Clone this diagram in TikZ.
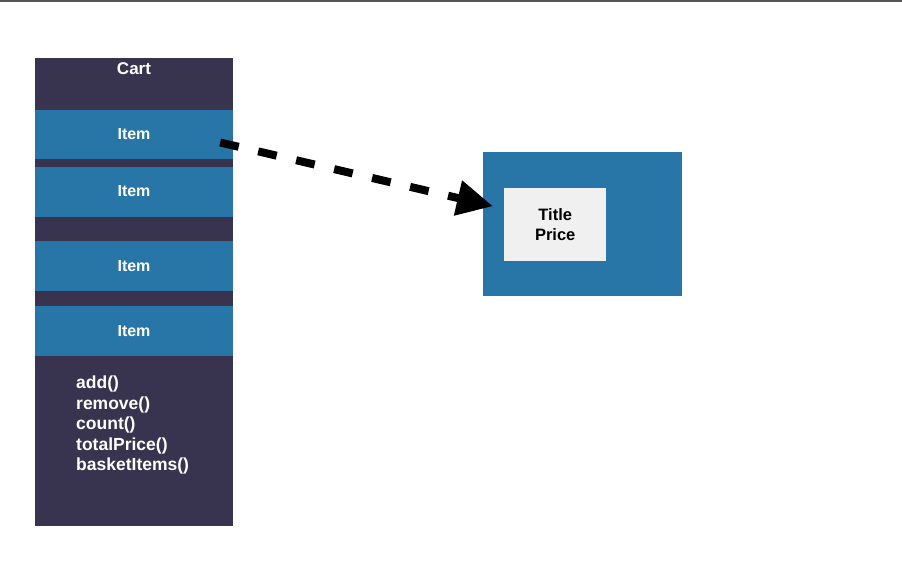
\documentclass[tikz,border=0pt]{standalone}
\usepackage{fontspec}
\setmainfont{Liberation Sans}
\usetikzlibrary{arrows.meta,calc}
\definecolor{cartdark}{HTML}{383450}
\definecolor{itemblue}{HTML}{2776A7}
\definecolor{cardgray}{HTML}{F0F0F0}
\definecolor{edgegray}{HTML}{555555}
\begin{document}
\begin{tikzpicture}[x=1pt,y=-1pt,
  labelfont/.style={font=\fontsize{16}{19}\selectfont\bfseries},
  panel/.style={fill=cartdark, draw=none, inner sep=0pt, minimum width=198pt},
  itembox/.style={fill=itemblue, draw=none, inner sep=0pt, minimum width=198pt,
                  minimum height=50pt, text=white, labelfont},
  whitetext/.style={text=white, inner sep=0pt, font=\fontsize{17}{20}\selectfont\bfseries},
  methods/.style={text=white, inner sep=0pt, align=left,
                  font=\fontsize{17.5}{20.5}\selectfont\bfseries},
  card/.style={fill=itemblue, draw=none, inner sep=0pt},
  detail/.style={fill=cardgray, draw=none, inner sep=0pt, align=center,
                 text=black, font=\fontsize{16.5}{20}\selectfont\bfseries},
  refarrow/.style={line width=8pt, dash pattern=on 19pt off 20pt,
                   -{Triangle[length=36pt,width=34pt]}}]
\useasboundingbox (0,0) rectangle (902,563);
% thin frame line along the top edge
\fill[edgegray] (0,0) rectangle (902,2);

% the cart column
\node[panel, minimum height=468pt, anchor=north west] (cart) at (35,58) {};
\node[whitetext] (carttitle) at (134,69) {Cart};
\node[itembox, minimum height=49pt] (item1) at (134,134.5) {Item};
\node[itembox] (item2) at (134,191.5) {Item};
\node[itembox] (item3) at (134,266) {Item};
\node[itembox] (item4) at (134,331) {Item};
\node[methods, anchor=west] (ops) at (76,425)
  {add()\\remove()\\count()\\totalPrice()\\basketItems()};

% the item object
\node[card, minimum width=199pt, minimum height=144pt, anchor=north west] (product) at (483,152) {};
\node[detail, minimum width=102pt, minimum height=73pt, anchor=north west] (details) at (504,188) {Title\\Price};

% reference from the first item to the item object
\coordinate (src) at ($(item1.east)+(-13,8)$);
\coordinate (dst) at ($(product.west)+(10,-18)$);
\draw[refarrow] (src) -- (dst);
\end{tikzpicture}
\end{document}
